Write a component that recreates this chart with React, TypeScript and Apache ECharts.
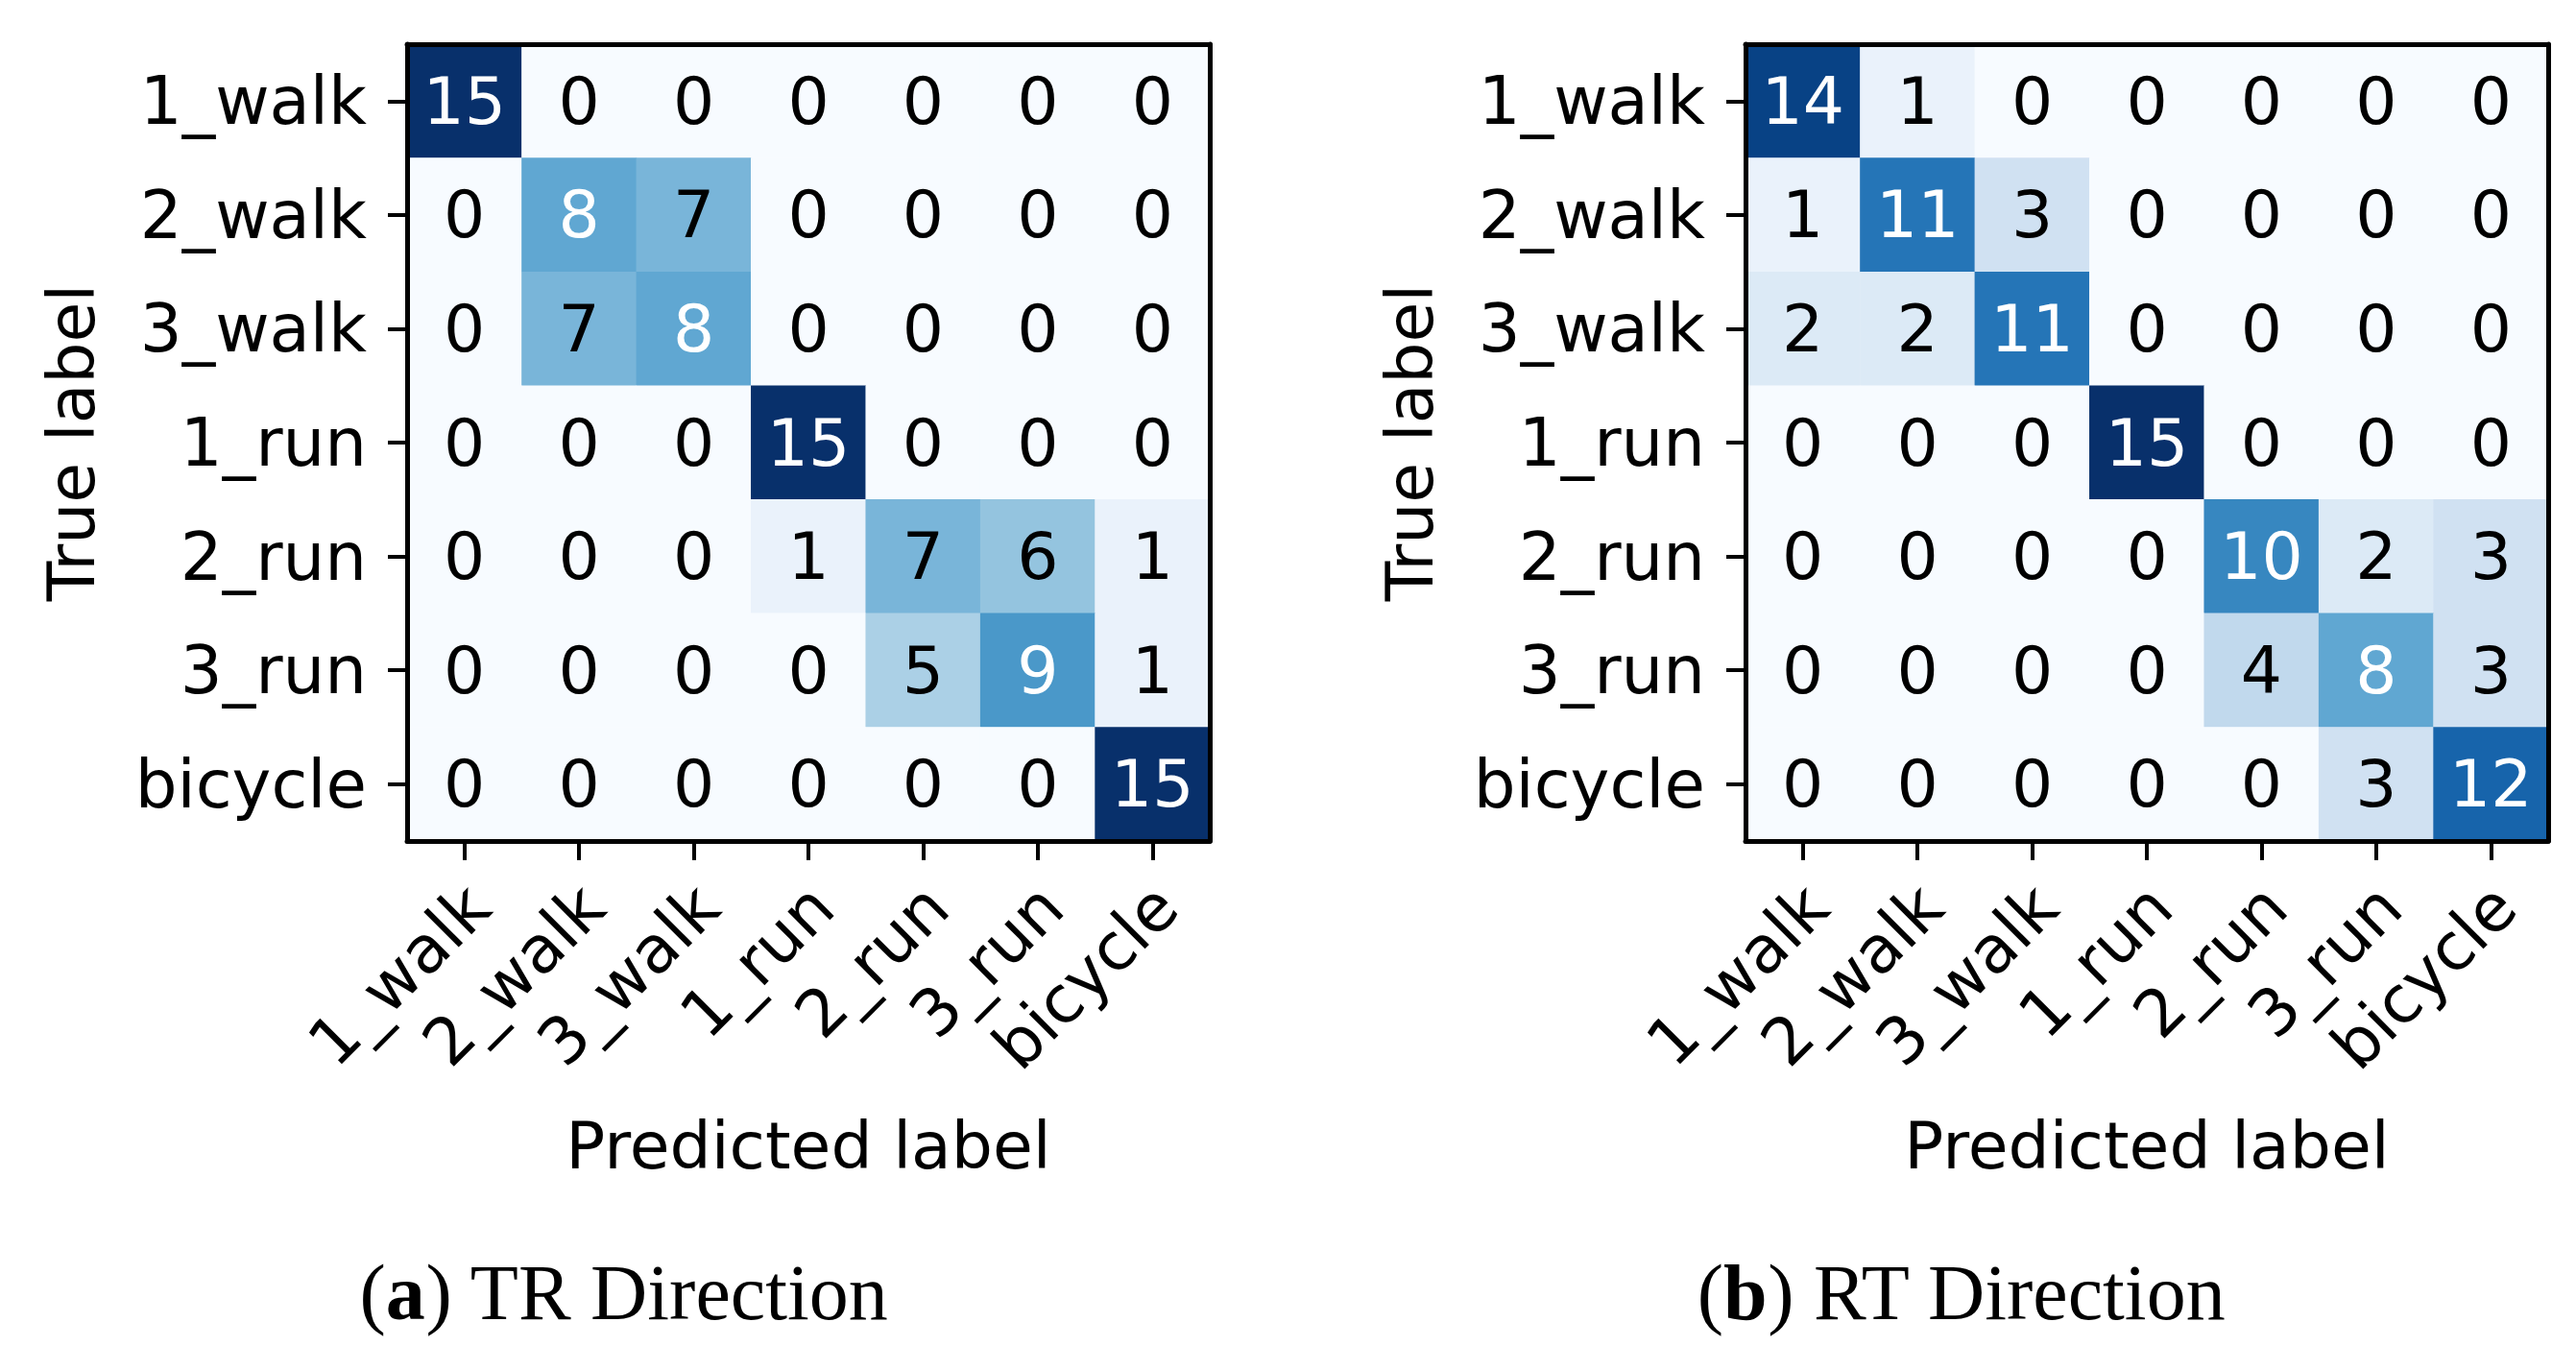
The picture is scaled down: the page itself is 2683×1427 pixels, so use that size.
import React, { useRef, useEffect } from "react";
import * as echarts from "echarts";

const categories = ["1_walk", "2_walk", "3_walk", "1_run", "2_run", "3_run", "bicycle"];

const trMatrix = [
  [15, 0, 0, 0, 0, 0, 0],
  [0, 8, 7, 0, 0, 0, 0],
  [0, 7, 8, 0, 0, 0, 0],
  [0, 0, 0, 15, 0, 0, 0],
  [0, 0, 0, 1, 7, 6, 1],
  [0, 0, 0, 0, 5, 9, 1],
  [0, 0, 0, 0, 0, 0, 15],
];

const rtMatrix = [
  [14, 1, 0, 0, 0, 0, 0],
  [1, 11, 3, 0, 0, 0, 0],
  [2, 2, 11, 0, 0, 0, 0],
  [0, 0, 0, 15, 0, 0, 0],
  [0, 0, 0, 0, 10, 2, 3],
  [0, 0, 0, 0, 4, 8, 3],
  [0, 0, 0, 0, 0, 3, 12],
];

const blues = [
  "#f7fbff", "#deebf7", "#c6dbef", "#9ecae1", "#6baed6",
  "#4292c6", "#2171b5", "#08519c", "#08306b",
];

const xAxisTitle = "Predicted label";
const yAxisTitle = "True label";
const captionLetters = ["a", "b"];
const captionTexts = [" TR Direction", " RT Direction"];

const FONT = "DejaVu Sans";
const SERIF = "Liberation Serif";
const W = 2683;
const H = 1427;

const grids = [
  { left: 424, top: 46, width: 836, height: 830 },
  { left: 1818, top: 46, width: 836, height: 830 },
];

function buildData(matrix: number[][]) {
  let max = 0;
  matrix.forEach((r) => r.forEach((v) => (max = Math.max(max, v))));
  const data: any[] = [];
  matrix.forEach((row, yi) =>
    row.forEach((v, xi) => {
      data.push({
        value: [xi, yi, v],
        label: { color: v > max / 2 ? "#ffffff" : "#000000" },
      });
    })
  );
  return { data, max };
}

export default function App() {
  const ref = useRef<HTMLDivElement>(null);
  useEffect(() => {
    document.body.style.margin = "0";
    const chart = echarts.init(ref.current!, null, { renderer: "svg" });
    const matrices = [trMatrix, rtMatrix];
    const xAxes: any[] = [];
    const yAxes: any[] = [];
    const series: any[] = [];
    const visualMaps: any[] = [];
    const graphics: any[] = [];
    matrices.forEach((m, gi) => {
      const { data, max } = buildData(m);
      const g = grids[gi];
      xAxes.push({
        gridIndex: gi,
        type: "category",
        data: categories,
        position: "bottom",
        z: 10,
        axisLine: { show: true, lineStyle: { color: "#000", width: 5 } },
        axisTick: { show: true, alignWithLabel: true, length: 20, lineStyle: { color: "#000", width: 4 } },
        axisLabel: {
          interval: 0,
          rotate: 45,
          margin: 43,
          fontSize: 68,
          lineHeight: 40,
          align: "right",
          verticalAlign: "top",
          color: "#000",
          fontFamily: FONT,
        },
        splitLine: { show: false },
        splitArea: { show: false },
      });
      xAxes.push({
        gridIndex: gi,
        type: "category",
        data: categories,
        position: "top",
        z: 10,
        axisLine: { show: true, lineStyle: { color: "#000", width: 5 } },
        axisTick: { show: false },
        axisLabel: { show: false },
        splitLine: { show: false },
      });
      yAxes.push({
        gridIndex: gi,
        type: "category",
        data: categories,
        inverse: true,
        position: "left",
        z: 10,
        axisLine: { show: true, lineStyle: { color: "#000", width: 5 } },
        axisTick: { show: true, alignWithLabel: true, length: 20, lineStyle: { color: "#000", width: 4 } },
        axisLabel: { interval: 0, margin: 42, fontSize: 69, color: "#000", fontFamily: FONT },
        splitLine: { show: false },
        splitArea: { show: false },
      });
      yAxes.push({
        gridIndex: gi,
        type: "category",
        data: categories,
        inverse: true,
        position: "right",
        z: 10,
        axisLine: { show: true, lineStyle: { color: "#000", width: 5 } },
        axisTick: { show: false },
        axisLabel: { show: false },
        splitLine: { show: false },
      });
      series.push({
        type: "heatmap",
        xAxisIndex: gi * 2,
        yAxisIndex: gi * 2,
        data,
        label: { show: true, fontSize: 68, fontFamily: FONT },
        emphasis: { disabled: true },
        itemStyle: { borderWidth: 0 },
      });
      visualMaps.push({
        type: "continuous",
        show: false,
        seriesIndex: gi,
        dimension: 2,
        min: 0,
        max,
        inRange: { color: blues },
      });
      graphics.push({
        type: "text",
        x: g.left + g.width / 2,
        y: 1193,
        style: {
          text: xAxisTitle,
          fontSize: 68,
          fontFamily: FONT,
          fill: "#000",
          textAlign: "center",
          textVerticalAlign: "middle",
        },
      });
      graphics.push({
        type: "text",
        x: gi === 0 ? 74 : 1468,
        y: g.top + g.height / 2,
        rotation: Math.PI / 2,
        style: {
          text: yAxisTitle,
          fontSize: 68,
          fontFamily: FONT,
          fill: "#000",
          textAlign: "center",
          textVerticalAlign: "middle",
        },
      });
      graphics.push({
        type: "text",
        x: gi === 0 ? 650 : 2043,
        y: 1346,
        style: {
          text: "{p|(}{b|" + captionLetters[gi] + "}{p|)" + captionTexts[gi] + "}",
          textAlign: "center",
          textVerticalAlign: "middle",
          rich: {
            p: { fontSize: 82, fontFamily: SERIF, fill: "#000" },
            b: { fontSize: 82, fontFamily: SERIF, fontWeight: "bold", fill: "#000" },
          },
        },
      });
    });
    chart.setOption({
      animation: false,
      backgroundColor: "#ffffff",
      grid: grids.map((g) => ({ ...g, containLabel: false })),
      xAxis: xAxes,
      yAxis: yAxes,
      visualMap: visualMaps,
      series,
      graphic: graphics,
    });
    return () => chart.dispose();
  }, []);
  return <div ref={ref} style={{ width: W, height: H }} />;
}
